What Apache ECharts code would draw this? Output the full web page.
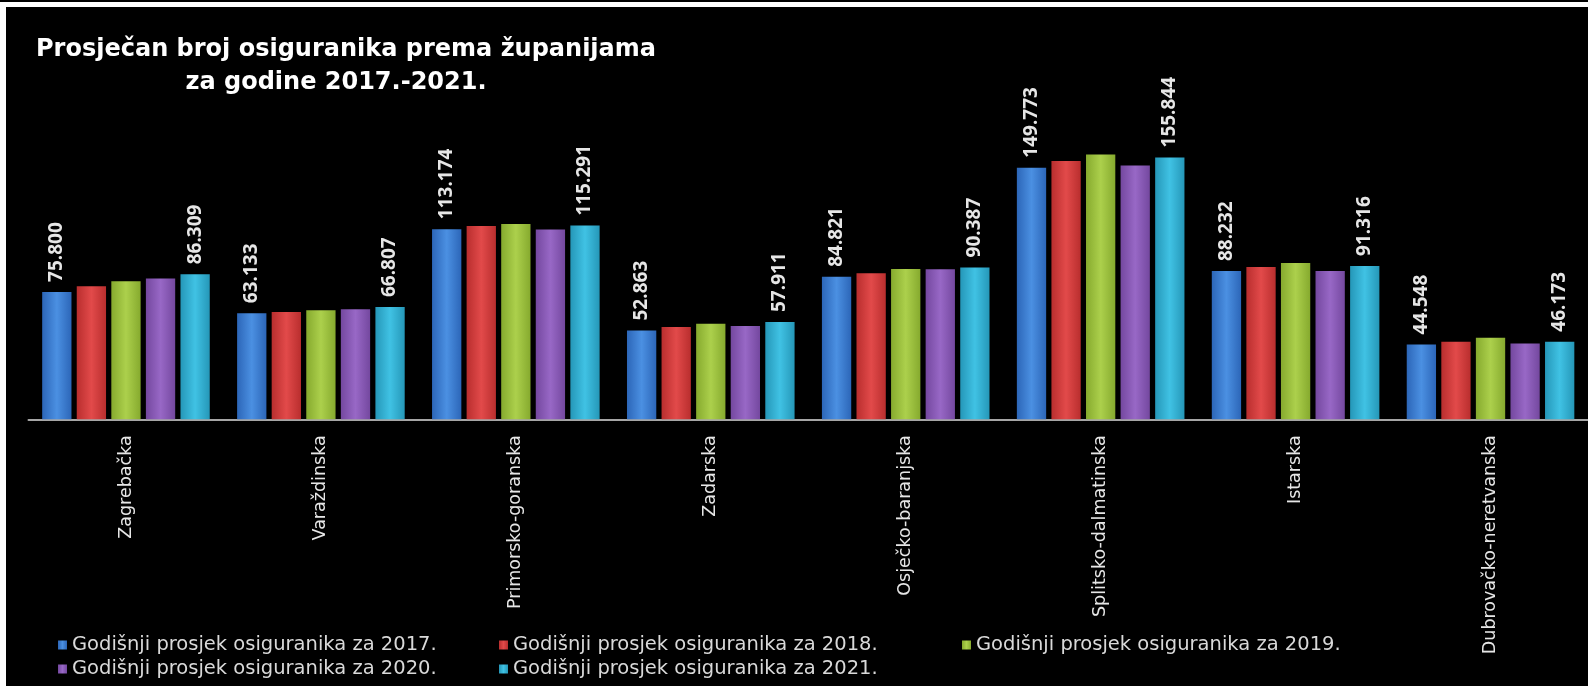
<!DOCTYPE html>
<html>
<head>
<meta charset="utf-8">
<script src="https://cdn.jsdelivr.net/npm/echarts@6/dist/echarts.min.js"></script>
<style>
  html, body { margin: 0; padding: 0; background: #ffffff; width: 1588px; height: 686px; overflow: hidden; }
  #topline { position: absolute; left: 0; top: 0; width: 1588px; height: 2px; background: #000; }
  #chart { position: absolute; left: 6px; top: 7px; width: 1582px; height: 679px; background: #000; }
</style>
</head>
<body>
<div id="topline"></div>
<div id="chart"></div>
<script>
const titleLine1 = 'Prosječan broj osiguranika prema županijama';
const titleLine2 = 'za godine 2017.-2021.';
const categories = ['Zagrebačka', 'Varaždinska', 'Primorsko-goranska', 'Zadarska', 'Osječko-baranjska', 'Splitsko-dalmatinska', 'Istarska', 'Dubrovačko-neretvanska'];
const seriesNames = ['Godišnji prosjek osiguranika za 2017.', 'Godišnji prosjek osiguranika za 2018.', 'Godišnji prosjek osiguranika za 2019.', 'Godišnji prosjek osiguranika za 2020.', 'Godišnji prosjek osiguranika za 2021.'];
const y2017 = [75800, 63133, 113174, 52863, 84821, 149773, 88232, 44548];
const y2018 = [79200, 63900, 115000, 55000, 86900, 153700, 90600, 46200];
const y2019 = [82100, 64900, 116300, 56900, 89400, 157600, 93000, 48600];
const y2020 = [83800, 65500, 113000, 55600, 89300, 151000, 88200, 45100];
const y2021 = [86309, 66807, 115291, 57911, 90387, 155844, 91316, 46173];
const labelled = [true, false, false, false, true];
const colors = [
  ['#2c66b8', '#4b90e2', '#2c66b8'],
  ['#b92e2e', '#e24a4a', '#b92e2e'],
  ['#86aa2e', '#acd04c', '#86aa2e'],
  ['#74489f', '#9868c6', '#74489f'],
  ['#2597b8', '#40c2e4', '#2597b8']
];
const allData = [y2017, y2018, y2019, y2020, y2021];

function fmt(v) {
  return String(v).replace(/\B(?=(\d{3})+(?!\d))/g, '.');
}
function grad(c) {
  return new echarts.graphic.LinearGradient(0, 0, 1, 0, [
    { offset: 0, color: c[0] },
    { offset: 0.5, color: c[1] },
    { offset: 1, color: c[2] }
  ]);
}

const chart = echarts.init(document.getElementById('chart'), null, { renderer: 'canvas' });

const series = allData.map((d, i) => ({
  name: seriesNames[i],
  type: 'bar',
  data: d,
  barWidth: 29.3,
  barGap: '18%',
  itemStyle: { color: grad(colors[i]) },
  label: {
    show: labelled[i],
    position: 'top',
    rotate: 90,
    align: 'left',
    verticalAlign: 'middle',
    distance: 10,
    color: '#e6e6e6',
    fontFamily: 'Open Sans',
    fontWeight: 'bold',
    fontSize: 19,
    formatter: p => fmt(p.value)
  }
}));

const legendLeft = [52, 493, 956, 52, 493];
const legendTop = [628, 628, 628, 652, 652];
const legends = seriesNames.map((n, i) => ({
  data: [n],
  left: legendLeft[i],
  top: legendTop[i],
  padding: 0,
  itemWidth: 9,
  itemHeight: 9,
  icon: 'rect',
  itemGap: 0,
  selectedMode: false,
  textStyle: { color: '#d9d9d9', fontFamily: 'DejaVu Sans', fontSize: 19.5, padding: [0, 0, 0, 0] }
}));

chart.setOption({
  backgroundColor: '#000000',
  animation: false,
  title: [
    { text: titleLine1, left: 340, top: 31, padding: 0, textAlign: 'center',
      textStyle: { color: '#ffffff', fontFamily: 'DejaVu Sans', fontWeight: 'bold', fontSize: 24 } },
    { text: titleLine2, left: 330, top: 64, padding: 0, textAlign: 'center',
      textStyle: { color: '#ffffff', fontFamily: 'DejaVu Sans', fontWeight: 'bold', fontSize: 24 } }
  ],
  legend: legends,
  grid: { left: 22.5, right: -4.5, top: 143.5, bottom: 266.7, containLabel: false },
  xAxis: {
    type: 'category',
    data: categories,
    axisLine: { lineStyle: { color: '#a6a6a6', width: 2 } },
    axisTick: { show: false },
    axisLabel: { rotate: 90, interval: 0, margin: 16, color: '#e6e6e6', fontFamily: 'DejaVu Sans', fontSize: 17.5 }
  },
  yAxis: {
    type: 'value', min: 0, max: 160000, show: false,
    splitLine: { show: false }
  },
  series: series
});
</script>
</body>
</html>
